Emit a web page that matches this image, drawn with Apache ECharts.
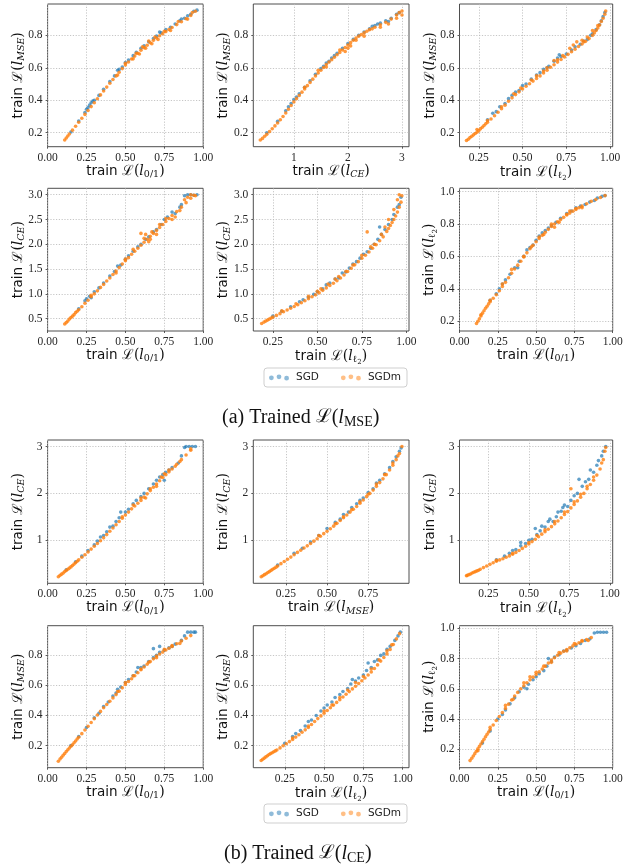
<!DOCTYPE html>
<html>
<head>
<meta charset="utf-8">
<script src="https://cdn.jsdelivr.net/npm/echarts@6/dist/echarts.min.js"></script>
<style>
  html, body { margin: 0; padding: 0; background: #ffffff; }
  #chart { width: 623px; height: 868px; }
</style>
</head>
<body>
<div id="chart"></div>
<script>
// ---- tick values ----
const ticksUnit = [0, 0.25, 0.5, 0.75, 1];
const ticksL2X = [0.25, 0.5, 0.75, 1];
const ticksMseX = [0.25, 0.5, 0.75];
const ticksMseY = [0.2, 0.4, 0.6, 0.8];
const ticksL2Y = [0.2, 0.4, 0.6, 0.8, 1.0];
const ticksCeInt = [1, 2, 3];
const ticksCeHalf = [0.5, 1, 1.5, 2, 2.5, 3];

const seriesNames = ['SGD', 'SGDm'];

// ---- (a) trained on MSE ----
// x: l0/1, y: MSE
const a01MseSGD = [[.15,.205],[.2,.272],[.24,.325],[.25,.345],[.26,.355],[.27,.37],[.28,.385],[.29,.395],[.3,.4],[.33,.43],[.36,.468],[.4,.515],[.43,.55],[.45,.585],[.46,.59],[.48,.605],[.5,.632],[.52,.648],[.55,.675],[.57,.695],[.6,.72],[.62,.735],[.65,.76],[.68,.78],[.7,.795],[.73,.815],[.76,.835],[.79,.85],[.82,.87],[.85,.89],[.88,.905],[.9,.92],[.92,.93],[.94,.948],[.96,.955],[.86,.9],[.72,.82]];
const a01MseSGDm = [[.11,.155],[.12,.168],[.13,.18],[.14,.192],[.16,.216],[.18,.24],[.2,.265],[.22,.289],[.24,.313],[.26,.337],[.28,.361],[.3,.385],[.32,.409],[.34,.433],[.36,.457],[.38,.481],[.4,.505],[.42,.528],[.44,.55],[.46,.573],[.48,.595],[.5,.617],[.52,.636],[.54,.654],[.56,.672],[.58,.69],[.6,.708],[.62,.724],[.64,.739],[.66,.754],[.68,.769],[.7,.784],[.72,.797],[.74,.81],[.76,.823],[.78,.836],[.8,.848],[.83,.866],[.86,.884],[.89,.902],[.92,.922],[.95,.948],[.45,.555],[.5,.628],[.55,.655],[.57,.69],[.59,.685],[.61,.73],[.63,.72],[.65,.765],[.67,.748],[.69,.79],[.71,.775],[.75,.825],[.79,.83],[.84,.885],[.9,.9],[.93,.94]];
// x: CE, y: MSE
const aCeMseSGD = [[.5,.2],[.7,.27],[.85,.335],[.9,.36],[.95,.38],[1.0,.405],[1.05,.42],[1.1,.44],[1.2,.48],[1.3,.52],[1.4,.56],[1.5,.595],[1.55,.61],[1.6,.63],[1.7,.66],[1.75,.675],[1.8,.69],[1.9,.72],[2.0,.75],[2.1,.775],[2.2,.8],[2.3,.82],[2.4,.84],[2.5,.86],[2.55,.87],[2.6,.875],[2.7,.89],[2.75,.885],[2.8,.905],[2.9,.93],[2.95,.94],[1.65,.64],[2.45,.855]];
const aCeMseSGDm = [[.38,.155],[.42,.165],[.46,.178],[.5,.19],[.55,.207],[.6,.225],[.65,.242],[.7,.26],[.75,.28],[.8,.3],[.85,.322],[.9,.345],[.95,.368],[1.0,.39],[1.05,.41],[1.1,.43],[1.15,.45],[1.2,.47],[1.25,.49],[1.3,.51],[1.35,.53],[1.4,.55],[1.45,.568],[1.5,.585],[1.55,.602],[1.6,.62],[1.65,.635],[1.7,.65],[1.75,.665],[1.8,.68],[1.85,.695],[1.9,.71],[1.95,.725],[2.0,.74],[2.05,.755],[2.1,.77],[2.15,.783],[2.2,.795],[2.25,.805],[2.3,.815],[2.35,.825],[2.4,.835],[2.5,.85],[2.6,.865],[2.7,.88],[2.8,.9],[2.9,.925],[3.0,.95],[1.2,.48],[1.45,.585],[1.6,.605],[1.85,.71],[1.95,.7],[2.0,.72],[2.05,.735],[2.15,.77],[2.3,.795],[2.45,.84],[2.6,.85],[2.75,.87],[2.9,.905],[3.0,.925],[2.95,.94]];
// x: l2, y: MSE
const aL2MseSGD = [[.3,.28],[.33,.32],[.35,.33],[.37,.36],[.4,.38],[.42,.41],[.44,.43],[.46,.45],[.48,.46],[.5,.49],[.52,.5],[.55,.53],[.58,.555],[.6,.57],[.62,.59],[.65,.61],[.68,.64],[.7,.66],[.72,.67],[.75,.685],[.78,.71],[.8,.73],[.83,.745],[.85,.765],[.87,.775],[.89,.8],[.9,.81],[.92,.835],[.94,.865],[.95,.89],[.96,.915],[.97,.94],[.71,.68],[.64,.6]];
const aL2MseSGDm = [[.18,.152],[.19,.16],[.2,.17],[.21,.178],[.22,.187],[.23,.195],[.24,.203],[.25,.213],[.26,.224],[.27,.234],[.28,.245],[.29,.255],[.3,.265],[.32,.285],[.34,.305],[.36,.326],[.38,.348],[.4,.37],[.42,.394],[.44,.415],[.46,.435],[.48,.452],[.5,.47],[.52,.486],[.54,.502],[.56,.518],[.58,.534],[.6,.55],[.62,.568],[.64,.585],[.66,.603],[.68,.619],[.7,.635],[.72,.651],[.74,.667],[.76,.683],[.78,.699],[.8,.715],[.82,.731],[.84,.747],[.86,.763],[.88,.78],[.9,.8],[.91,.815],[.92,.83],[.93,.845],[.94,.863],[.95,.885],[.96,.905],[.97,.93],[.975,.95],[.24,.22],[.3,.275],[.38,.36],[.45,.44],[.49,.475],[.55,.525],[.58,.55],[.62,.58],[.64,.6],[.68,.645],[.7,.65],[.73,.675],[.77,.72],[.79,.74],[.81,.76],[.84,.77],[.87,.79],[.9,.83],[.93,.86],[.85,.76]];
// x: l0/1, y: CE
const a01CeSGD = [[.2,.7],[.24,.86],[.25,.9],[.27,.95],[.28,.92],[.3,1.04],[.33,1.12],[.36,1.22],[.4,1.36],[.43,1.45],[.45,1.56],[.47,1.58],[.5,1.7],[.52,1.77],[.55,1.86],[.58,1.95],[.6,2.0],[.63,2.1],[.65,2.15],[.68,2.25],[.7,2.3],[.73,2.4],[.75,2.5],[.77,2.55],[.8,2.65],[.82,2.62],[.85,2.75],[.88,2.98],[.9,3.0],[.92,3.0],[.94,2.99],[.96,3.0],[.86,2.8]];
const a01CeSGDm = [[.11,.39],[.12,.42],[.13,.45],[.14,.49],[.15,.52],[.16,.55],[.17,.58],[.18,.62],[.19,.65],[.2,.68],[.22,.74],[.24,.81],[.26,.87],[.28,.94],[.3,1.0],[.32,1.06],[.34,1.13],[.36,1.19],[.38,1.26],[.4,1.32],[.42,1.39],[.44,1.46],[.46,1.53],[.48,1.6],[.5,1.67],[.52,1.73],[.54,1.8],[.56,1.86],[.58,1.92],[.6,1.98],[.62,2.04],[.64,2.1],[.66,2.16],[.68,2.22],[.7,2.28],[.72,2.34],[.74,2.4],[.76,2.46],[.78,2.52],[.8,2.58],[.83,2.66],[.86,2.75],[.89,2.84],[.92,2.93],[.95,2.98],[.28,.97],[.44,1.42],[.5,1.7],[.55,1.9],[.6,2.22],[.62,2.12],[.63,2.2],[.65,2.05],[.67,2.25],[.7,2.2],[.72,2.4],[.76,2.52],[.8,2.5],[.82,2.55],[.85,2.68],[.88,2.9],[.9,2.95],[.92,3.0],[.94,2.99],[.66,2.1]];
// x: l2, y: CE
const aL2CeSGD = [[.25,.55],[.3,.65],[.35,.74],[.4,.84],[.42,.88],[.45,.93],[.48,.99],[.5,1.04],[.53,1.1],[.55,1.18],[.57,1.22],[.6,1.3],[.62,1.32],[.64,1.42],[.66,1.44],[.68,1.52],[.7,1.6],[.72,1.65],[.74,1.72],[.76,1.8],[.78,1.85],[.8,1.92],[.82,2.0],[.84,2.1],[.86,2.2],[.88,2.3],[.9,2.4],[.92,2.5],[.93,2.6],[.95,2.75],[.96,2.8],[.97,2.95],[.85,2.35]];
const aL2CeSGDm = [[.187,.4],[.2,.43],[.21,.45],[.22,.47],[.23,.49],[.24,.51],[.25,.53],[.27,.565],[.29,.6],[.31,.64],[.33,.675],[.35,.71],[.37,.745],[.39,.78],[.41,.82],[.43,.86],[.45,.9],[.47,.94],[.49,.98],[.51,1.02],[.53,1.07],[.55,1.12],[.57,1.17],[.59,1.215],[.61,1.265],[.63,1.32],[.65,1.38],[.67,1.45],[.69,1.515],[.71,1.585],[.73,1.65],[.75,1.72],[.77,1.78],[.79,1.845],[.81,1.92],[.83,1.99],[.85,2.07],[.87,2.15],[.89,2.26],[.9,2.32],[.91,2.38],[.92,2.44],[.93,2.5],[.94,2.57],[.95,2.65],[.96,2.75],[.97,2.85],[.975,2.98],[.3,.66],[.38,.8],[.45,.95],[.5,1.05],[.52,1.1],[.56,1.2],[.6,1.3],[.62,1.35],[.66,1.45],[.7,1.58],[.75,1.78],[.78,2.25],[.8,1.95],[.82,2.0],[.86,2.2],[.88,2.35],[.9,2.5],[.93,2.7],[.95,2.9],[.96,3.0]];
// x: l0/1, y: l2
const a01L2SGD = [[.2,.33],[.24,.37],[.26,.4],[.28,.43],[.3,.455],[.33,.49],[.36,.53],[.39,.57],[.42,.6],[.44,.64],[.46,.655],[.48,.67],[.5,.7],[.52,.725],[.54,.745],[.56,.76],[.58,.775],[.6,.79],[.63,.81],[.66,.835],[.7,.865],[.73,.88],[.76,.9],[.79,.91],[.82,.92],[.85,.935],[.88,.945],[.9,.96],[.93,.97],[.95,.975],[.38,.53]];
const a01L2SGDm = [[.111,.186],[.12,.2],[.13,.215],[.14,.233],[.15,.25],[.16,.265],[.17,.28],[.18,.293],[.19,.307],[.2,.32],[.22,.342],[.24,.364],[.26,.388],[.28,.414],[.3,.44],[.32,.468],[.34,.496],[.36,.522],[.38,.546],[.4,.57],[.42,.596],[.44,.622],[.46,.647],[.48,.669],[.5,.69],[.52,.71],[.54,.73],[.56,.749],[.58,.767],[.6,.785],[.62,.8],[.64,.814],[.66,.827],[.68,.841],[.7,.855],[.72,.867],[.74,.879],[.76,.89],[.78,.9],[.8,.91],[.83,.925],[.86,.94],[.89,.951],[.92,.963],[.95,.975],[.14,.24],[.2,.33],[.28,.43],[.34,.52],[.42,.6],[.47,.66],[.52,.72],[.55,.735],[.6,.8],[.62,.78],[.65,.81],[.7,.86],[.72,.88],[.76,.895],[.8,.9]];

// ---- (b) trained on CE ----
// x: l0/1, y: CE
const b01CeSGD = [[.12,.37],[.18,.54],[.22,.66],[.26,.78],[.3,.9],[.32,.98],[.34,1.07],[.36,1.1],[.38,1.18],[.4,1.28],[.42,1.3],[.44,1.4],[.46,1.48],[.47,1.6],[.5,1.6],[.52,1.66],[.55,1.78],[.57,1.85],[.6,1.93],[.62,2.0],[.65,2.1],[.68,2.2],[.7,2.28],[.72,2.35],[.74,2.4],[.76,2.45],[.78,2.5],[.8,2.55],[.84,2.65],[.86,2.8],[.88,2.98],[.89,3.0],[.91,3.0],[.93,3.0],[.95,3.0],[.75,2.28]];
const b01CeSGDm = [[.069,.22],[.08,.25],[.09,.275],[.1,.3],[.11,.33],[.12,.355],[.13,.38],[.14,.405],[.15,.43],[.16,.46],[.17,.49],[.18,.52],[.19,.55],[.2,.58],[.22,.635],[.24,.69],[.26,.75],[.28,.81],[.3,.87],[.32,.93],[.34,.99],[.36,1.05],[.38,1.12],[.4,1.19],[.42,1.26],[.44,1.33],[.46,1.4],[.48,1.47],[.5,1.54],[.52,1.6],[.54,1.67],[.56,1.73],[.58,1.79],[.6,1.85],[.62,1.92],[.64,1.99],[.66,2.06],[.68,2.13],[.7,2.2],[.72,2.27],[.74,2.34],[.76,2.4],[.78,2.46],[.8,2.52],[.83,2.62],[.86,2.72],[.89,2.82],[.92,2.92],[.48,1.5],[.55,1.75],[.6,1.9],[.63,1.9],[.66,2.1],[.7,2.15],[.73,2.35],[.75,2.42],[.78,2.5],[.82,2.58],[.85,2.68],[.92,2.95]];
// x: MSE, y: CE
const bMseCeSGD = [[.2,.47],[.3,.72],[.35,.83],[.4,.96],[.45,1.1],[.5,1.25],[.55,1.38],[.58,1.45],[.6,1.55],[.63,1.6],[.65,1.7],[.68,1.78],[.7,1.85],[.72,1.9],[.75,2.02],[.78,2.1],[.8,2.22],[.82,2.28],[.85,2.42],[.88,2.55],[.9,2.68],[.92,2.78],[.94,2.9],[.95,2.97]];
const bMseCeSGDm = [[.1,.22],[.11,.24],[.12,.265],[.13,.285],[.14,.31],[.15,.33],[.16,.355],[.17,.38],[.18,.4],[.19,.425],[.2,.45],[.22,.5],[.24,.545],[.26,.595],[.28,.64],[.3,.69],[.32,.74],[.34,.785],[.36,.835],[.38,.88],[.4,.93],[.42,.98],[.44,1.03],[.46,1.085],[.48,1.14],[.5,1.19],[.52,1.245],[.54,1.3],[.56,1.36],[.58,1.42],[.6,1.48],[.62,1.54],[.64,1.6],[.66,1.66],[.68,1.72],[.7,1.79],[.72,1.86],[.74,1.93],[.76,2.0],[.78,2.07],[.8,2.15],[.82,2.23],[.84,2.31],[.86,2.4],[.88,2.5],[.9,2.6],[.92,2.72],[.94,2.85],[.955,3.0],[.45,1.1],[.55,1.35],[.6,1.5],[.65,1.65],[.7,1.82],[.75,1.98],[.8,2.2],[.85,2.4],[.9,2.65],[.93,2.8]];
// x: l2, y: CE
const bL2CeSGD = [[.3,.58],[.35,.66],[.38,.72],[.4,.78],[.42,.8],[.45,.88],[.48,.93],[.5,1.0],[.52,1.02],[.55,1.12],[.57,1.2],[.58,1.3],[.6,1.28],[.62,1.4],[.63,1.45],[.65,1.4],[.67,1.5],[.7,1.62],[.71,1.7],[.72,1.75],[.74,1.72],[.76,1.85],[.78,1.95],[.8,2.0],[.81,2.3],[.83,2.15],[.85,2.25],[.87,2.3],[.88,2.5],[.9,2.45],[.92,2.6],[.93,2.7],[.95,2.8],[.96,2.9],[.975,3.0],[.68,1.6],[.54,1.25],[.45,.95]];
const bL2CeSGDm = [[.115,.24],[.12,.25],[.13,.265],[.14,.28],[.15,.3],[.16,.315],[.17,.33],[.18,.345],[.19,.36],[.2,.38],[.22,.415],[.24,.45],[.26,.485],[.28,.52],[.3,.55],[.32,.58],[.34,.605],[.36,.635],[.38,.665],[.4,.7],[.42,.74],[.44,.78],[.46,.825],[.48,.87],[.5,.92],[.52,.97],[.54,1.02],[.56,1.075],[.58,1.13],[.6,1.18],[.62,1.235],[.64,1.29],[.66,1.35],[.68,1.41],[.7,1.48],[.72,1.55],[.74,1.61],[.76,1.69],[.78,1.765],[.8,1.84],[.82,1.92],[.84,2.0],[.86,2.1],[.88,2.19],[.9,2.28],[.92,2.39],[.94,2.52],[.96,2.72],[.975,2.98],[.3,.57],[.4,.72],[.5,.95],[.55,1.1],[.6,1.22],[.66,1.4],[.72,1.6],[.76,2.1],[.78,1.82],[.82,1.98],[.86,2.15],[.9,2.35],[.95,2.65],[.97,2.9]];
// x: l0/1, y: MSE
const b01MseSGD = [[.15,.2],[.2,.26],[.25,.32],[.3,.385],[.33,.415],[.36,.46],[.39,.49],[.42,.53],[.44,.55],[.45,.575],[.47,.59],[.5,.62],[.52,.64],[.55,.665],[.57,.69],[.6,.72],[.62,.73],[.65,.76],[.68,.785],[.7,.8],[.72,.82],[.75,.835],[.78,.85],[.8,.86],[.82,.875],[.86,.9],[.9,.955],[.92,.955],[.94,.955],[.95,.955],[.88,.93],[.68,.845],[.72,.86],[.58,.72]];
const b01MseSGDm = [[.069,.095],[.08,.11],[.09,.122],[.1,.135],[.11,.147],[.12,.16],[.13,.172],[.14,.183],[.15,.195],[.16,.205],[.17,.218],[.18,.23],[.19,.243],[.2,.255],[.22,.279],[.24,.303],[.26,.328],[.28,.353],[.3,.378],[.32,.403],[.34,.427],[.36,.451],[.38,.473],[.4,.495],[.42,.517],[.44,.539],[.46,.561],[.48,.584],[.5,.606],[.52,.626],[.54,.645],[.56,.665],[.58,.685],[.6,.705],[.62,.723],[.64,.741],[.66,.759],[.68,.777],[.7,.796],[.72,.809],[.74,.822],[.76,.836],[.78,.848],[.8,.86],[.83,.878],[.86,.896],[.89,.914],[.92,.932],[.45,.56],[.5,.62],[.55,.665],[.6,.71],[.65,.755],[.7,.785],[.75,.84],[.8,.865],[.85,.88]];
// x: l2, y: MSE
const bL2MseSGD = [[.25,.215],[.3,.26],[.32,.28],[.35,.3],[.38,.33],[.4,.36],[.42,.37],[.45,.4],[.48,.43],[.5,.45],[.52,.47],[.55,.49],[.57,.52],[.6,.54],[.62,.56],[.65,.58],[.67,.61],[.7,.63],[.72,.65],[.75,.67],[.77,.7],[.8,.72],[.82,.76],[.84,.77],[.86,.8],[.88,.81],[.9,.84],[.92,.86],[.95,.9],[.97,.93],[.985,.955],[.68,.64],[.78,.75]];
const bL2MseSGDm = [[.1,.1],[.11,.108],[.12,.116],[.13,.124],[.14,.132],[.15,.14],[.16,.146],[.17,.152],[.18,.158],[.19,.164],[.2,.17],[.22,.184],[.24,.198],[.26,.212],[.28,.226],[.3,.24],[.32,.256],[.34,.272],[.36,.288],[.38,.304],[.4,.32],[.42,.34],[.44,.36],[.46,.379],[.48,.397],[.5,.415],[.52,.433],[.54,.451],[.56,.469],[.58,.487],[.6,.505],[.62,.523],[.64,.541],[.66,.559],[.68,.577],[.7,.595],[.72,.613],[.74,.631],[.76,.65],[.78,.67],[.8,.69],[.82,.713],[.84,.737],[.86,.762],[.88,.786],[.9,.81],[.92,.84],[.94,.873],[.96,.91],[.98,.945],[.3,.25],[.4,.33],[.5,.43],[.55,.47],[.6,.52],[.65,.57],[.7,.62],[.75,.66],[.8,.71],[.85,.77],[.9,.83],[.93,.87]];
// x: l0/1, y: l2
const b01L2SGD = [[.15,.24],[.2,.32],[.25,.4],[.28,.43],[.3,.46],[.33,.5],[.36,.54],[.39,.58],[.42,.61],[.45,.63],[.48,.66],[.5,.68],[.52,.7],[.55,.72],[.57,.75],[.6,.78],[.62,.81],[.65,.825],[.68,.85],[.7,.855],[.73,.87],[.76,.885],[.79,.9],[.82,.92],[.85,.93],[.88,.97],[.9,.975],[.92,.975],[.94,.975],[.96,.975],[.58,.8],[.44,.6]];
const b01L2SGDm = [[.069,.124],[.08,.14],[.09,.155],[.1,.17],[.11,.186],[.12,.202],[.13,.218],[.14,.234],[.15,.25],[.16,.266],[.17,.282],[.18,.298],[.19,.314],[.2,.33],[.22,.36],[.24,.39],[.26,.416],[.28,.442],[.3,.47],[.32,.498],[.34,.526],[.36,.552],[.38,.576],[.4,.6],[.42,.62],[.44,.64],[.46,.659],[.48,.677],[.5,.694],[.52,.712],[.54,.731],[.56,.75],[.58,.77],[.6,.79],[.62,.806],[.64,.822],[.66,.836],[.68,.848],[.7,.86],[.72,.872],[.74,.884],[.76,.895],[.78,.905],[.8,.915],[.83,.927],[.86,.939],[.12,.19],[.2,.345],[.3,.49],[.35,.53],[.42,.64],[.46,.68],[.5,.71],[.55,.75],[.6,.775],[.65,.84],[.7,.85],[.75,.9],[.8,.92],[.84,.92]];

// ---- axis label text (rich) ----
const LBL01 = '{t|train }{s|ℒ}{p|(}{i|l}{b|0/1}{p|)}';
const LBLMSE = '{t|train }{s|ℒ}{p|(}{i|l}{bi|MSE}{p|)}';
const LBLCE = '{t|train }{s|ℒ}{p|(}{i|l}{bi|CE}{p|)}';
const LBLL2 = '{t|train }{s|ℒ}{p|(}{i|l}{el|ℓ}{two|2}{p|)}';

const mathFont = 'DejaVu Serif';
const RICH = {
  t: { fontFamily: 'DejaVu Sans', fontSize: 13.5, color: '#111' },
  s: { fontFamily: mathFont, fontSize: 14, color: '#111' },
  p: { fontFamily: mathFont, fontSize: 14, color: '#111' },
  i: { fontFamily: mathFont, fontStyle: 'italic', fontSize: 14, color: '#111' },
  b: { fontFamily: mathFont, fontSize: 9.5, color: '#111', padding: [7, 0, 0, 0] },
  bi: { fontFamily: mathFont, fontStyle: 'italic', fontSize: 9.5, color: '#111', padding: [7, 0, 0, 0] },
  el: { fontFamily: mathFont, fontSize: 9.5, color: '#111', padding: [7, 0, 0, 0] },
  two: { fontFamily: mathFont, fontSize: 7, color: '#111', padding: [12, 0, 0, 0] }
};

// ---- axis specs ----
const AX = {
  u01:   { min: 0, max: 1, ticks: ticksUnit, dec: 2, name: LBL01 },
  aMseY: { min: 0.114, max: 0.993, ticks: ticksMseY, dec: 1, name: LBLMSE },
  aCeX:  { min: 0.25, max: 3.13, ticks: ticksCeInt, dec: 0, name: LBLCE },
  aL2X:  { min: 0.14, max: 1.015, ticks: ticksL2X, dec: 2, name: LBLL2 },
  aCeY:  { min: 0.25, max: 3.13, ticks: ticksCeHalf, dec: 1, name: LBLCE },
  aL2Y:  { min: 0.14, max: 1.02, ticks: ticksL2Y, dec: 1, name: LBLL2 },
  bCeY:  { min: 0.08, max: 3.14, ticks: ticksCeInt, dec: 0, name: LBLCE },
  bMseX: { min: 0.052, max: 0.998, ticks: ticksMseX, dec: 2, name: LBLMSE },
  bL2X:  { min: 0.072, max: 1.018, ticks: ticksL2X, dec: 2, name: LBLL2 },
  bMseY: { min: 0.052, max: 0.998, ticks: ticksMseY, dec: 1, name: LBLMSE },
  bL2X2: { min: 0.05, max: 1.04, ticks: ticksL2X, dec: 2, name: LBLL2 },
  bL2Y:  { min: 0.077, max: 1.018, ticks: ticksL2Y, dec: 1, name: LBLL2 }
};

// panel order: row by row
const panels = [
  { x: 'u01',   y: 'aMseY', sgd: a01MseSGD, sgdm: a01MseSGDm },
  { x: 'aCeX',  y: 'aMseY', sgd: aCeMseSGD, sgdm: aCeMseSGDm },
  { x: 'aL2X',  y: 'aMseY', sgd: aL2MseSGD, sgdm: aL2MseSGDm },
  { x: 'u01',   y: 'aCeY',  sgd: a01CeSGD,  sgdm: a01CeSGDm },
  { x: 'aL2X',  y: 'aCeY',  sgd: aL2CeSGD,  sgdm: aL2CeSGDm },
  { x: 'u01',   y: 'aL2Y',  sgd: a01L2SGD,  sgdm: a01L2SGDm },
  { x: 'u01',   y: 'bCeY',  sgd: b01CeSGD,  sgdm: b01CeSGDm },
  { x: 'bMseX', y: 'bCeY',  sgd: bMseCeSGD, sgdm: bMseCeSGDm },
  { x: 'bL2X',  y: 'bCeY',  sgd: bL2CeSGD,  sgdm: bL2CeSGDm },
  { x: 'u01',   y: 'bMseY', sgd: b01MseSGD, sgdm: b01MseSGDm },
  { x: 'bL2X2', y: 'bMseY', sgd: bL2MseSGD, sgdm: bL2MseSGDm },
  { x: 'u01',   y: 'bL2Y',  sgd: b01L2SGD,  sgdm: b01L2SGDm }
];

// ---- layout ----
const colLeft = [47.6, 253.3, 459.5];
const colWidth = [155.6, 155.7, 153.2];
const rowTop = [4, 188.3, 440, 625.7];
const rowHeight = [142.7, 142.7, 143.3, 142];

const BLUE = '#1f77b4';
const ORANGE = '#ff7f0e';
const tickFont = { fontFamily: 'Liberation Serif', fontSize: 11.5, color: '#262626' };
const gridLine = { show: true, lineStyle: { color: '#b8b8b8', width: 0.8, type: [1.2, 1.6] } };

function makeAxis(spec, gridIndex, isX) {
  return {
    type: 'value',
    gridIndex: gridIndex,
    min: spec.min,
    max: spec.max,
    name: spec.name,
    nameLocation: 'middle',
    nameGap: isX ? 16 : 21,
    nameRotate: isX ? 0 : 90,
    nameMoveOverlap: false,
    nameTextStyle: { rich: RICH },
    axisLine: { show: false },
    axisTick: { show: true, customValues: spec.ticks, length: 2, lineStyle: { color: '#333', width: 0.8 } },
    axisLabel: Object.assign({ customValues: spec.ticks, margin: 5,
      formatter: function (v) { return Number(v).toFixed(spec.dec); } }, tickFont),
    splitLine: gridLine
  };
}

const grids = [], xAxes = [], yAxes = [], series = [];
panels.forEach(function (p, k) {
  const r = Math.floor(k / 3), c = k % 3;
  grids.push({
    left: colLeft[c], top: rowTop[r], width: colWidth[c], height: rowHeight[r],
    show: true, borderColor: '#3a3a3a', borderWidth: 0.9, backgroundColor: 'transparent',
    containLabel: false, outerBoundsMode: 'none'
  });
  xAxes.push(makeAxis(AX[p.x], k, true));
  yAxes.push(makeAxis(AX[p.y], k, false));
  series.push({
    name: seriesNames[0], type: 'scatter', xAxisIndex: k, yAxisIndex: k,
    data: p.sgd, symbolSize: 3.6, itemStyle: { color: BLUE, opacity: 0.7 }, silent: true
  });
  series.push({
    name: seriesNames[1], type: 'scatter', xAxisIndex: k, yAxisIndex: k,
    data: p.sgdm, symbolSize: 3.6, itemStyle: { color: ORANGE, opacity: 0.8 }, silent: true
  });
});

// three-dot legend marker
const DOTS = 'path://M0,3.6a2.4,2.4 0 1,0 4.8,0a2.4,2.4 0 1,0 -4.8,0M7.6,2.6a2.4,2.4 0 1,0 4.8,0a2.4,2.4 0 1,0 -4.8,0M15.2,3.9a2.4,2.4 0 1,0 4.8,0a2.4,2.4 0 1,0 -4.8,0';

function makeLegend(top) {
  return {
    left: 264, top: top, orient: 'horizontal',
    itemWidth: 20, itemHeight: 6.4, itemGap: 22,
    padding: [4, 6, 4, 5],
    borderColor: '#cfcfcf', borderWidth: 1, borderRadius: 3, backgroundColor: '#ffffff',
    textStyle: { fontFamily: 'DejaVu Sans', fontSize: 10.5, color: '#222', padding: [0, 0, 0, 2] },
    data: [
      { name: seriesNames[0], icon: DOTS, itemStyle: { color: BLUE, opacity: 0.5 } },
      { name: seriesNames[1], icon: DOTS, itemStyle: { color: ORANGE, opacity: 0.5 } }
    ]
  };
}

const capRich = {
  a: { fontFamily: 'Liberation Serif', fontWeight: 'normal', fontSize: 20, color: '#111' },
  s: { fontFamily: mathFont, fontWeight: 'normal', fontSize: 19, color: '#111' },
  i: { fontFamily: 'Liberation Serif', fontWeight: 'normal', fontStyle: 'italic', fontSize: 20, color: '#111' },
  sub: { fontFamily: 'Liberation Serif', fontWeight: 'normal', fontSize: 14, color: '#111', padding: [9, 0, 0, 0] }
};

const option = {
  backgroundColor: '#ffffff',
  animation: false,
  grid: grids,
  xAxis: xAxes,
  yAxis: yAxes,
  series: series,
  legend: [makeLegend(368), makeLegend(804)],
  title: [
    { text: '{a|(a) Trained }{s|ℒ}{a|(}{i|l}{sub|MSE}{a|)}', left: 222, top: 406, padding: 0,
      textStyle: { fontWeight: 'normal', rich: capRich } },
    { text: '{a|(b) Trained }{s|ℒ}{a|(}{i|l}{sub|CE}{a|)}', left: 224, top: 842, padding: 0,
      textStyle: { fontWeight: 'normal', rich: capRich } }
  ]
};

const chart = echarts.init(document.getElementById('chart'), null, { renderer: 'canvas' });
chart.setOption(option);
</script>
</body>
</html>
